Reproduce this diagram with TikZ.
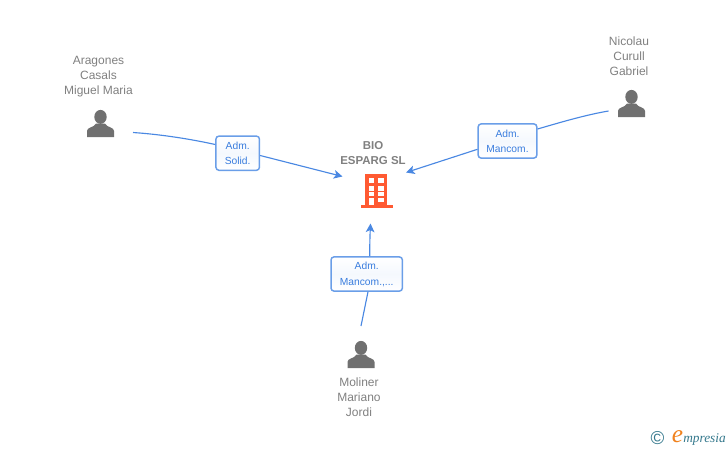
\documentclass[tikz,border=0pt]{standalone}
\usepackage{fontspec}
\setmainfont{Liberation Sans}
\newfontfamily\logofont{Liberation Serif}
\usetikzlibrary{shapes,arrows.meta}
\definecolor{linkblue}{RGB}{74,136,226}
\definecolor{boxblue}{RGB}{106,158,232}
\definecolor{textblue}{RGB}{58,125,222}
\definecolor{namegray}{RGB}{128,128,128}
\definecolor{icongray}{RGB}{112,112,112}
\definecolor{buildorange}{RGB}{255,90,50}
\definecolor{logoteal}{RGB}{52,120,140}
\definecolor{logoorange}{RGB}{240,130,30}
\tikzset{
  link/.style={draw=linkblue,line width=0.85pt},
  tipped/.style={-{Stealth[length=6.5pt,width=6.5pt,inset=1.6pt]}},
  rolebox/.style={draw=boxblue,line width=1.1pt,rounded corners=2.2pt,top color=white,bottom color=white,middle color=white!93!boxblue,text=textblue,font=\fontsize{7.7}{11.6}\selectfont,align=center,inner sep=0pt,minimum height=25.6pt},
  personname/.style={text=namegray,font=\fontsize{9}{11.25}\selectfont,align=center,inner sep=0pt},
  personicon/.pic={
    \fill[icongray] (0,6.6) ellipse (6.2 and 7);
    \fill[icongray] (-13.5,-13.5) -- (-13.5,-7.5) .. controls (-13.5,-3.5) and (-7,-4.5) .. (-4.5,0) -- (4.5,0) .. controls (7,-4.5) and (13.5,-3.5) .. (13.5,-7.5) -- (13.5,-13.5) -- cycle;
  }
}
\begin{document}
\begin{tikzpicture}[x=0.75pt,y=0.75pt,yscale=-1,xscale=1]
    \useasboundingbox (0,0) rectangle (728,450);

    % Company
    \node [text=namegray,font=\bfseries\fontsize{8.6}{11.25}\selectfont,align=center,inner sep=0pt] (company) at (373,153.2) {BIO\\ESPARG SL};
    %Building
    \fill [buildorange] (365,174) rectangle (387,205) ;
    \fill [buildorange] (360.5,205) rectangle (392.5,208) ;
    \foreach \rowy/\rowh in {178/5,186/4.5,192/3.5,198/4}{
      \fill [white] (368.5,\rowy) rectangle ++(5.2,\rowh) ;
      \fill [white] (378.3,\rowy) rectangle ++(5.2,\rowh) ;
    }
    \fill [white] (368.5,198) rectangle (373.7,205) ;

    % People
    \path (100.5,123.5) pic {personicon} ;
    \path (631.5,103.5) pic {personicon} ;
    \path (361,354.5) pic {personicon} ;
    \node [personname] (aragones) at (98.5,76.7) {Aragones\\Casals\\Miguel Maria};
    \node [personname] (nicolau) at (629,56.7) {Nicolau\\Curull\\Gabriel};
    \node [personname] (moliner) at (359,397) {Moliner\\Mariano\\Jordi};

    % Role boxes
    \node [rolebox,minimum width=32.6pt] (solid) at (237.7,153.2) {\rule{0pt}{6pt}Adm.\\Solid.};
    \node [rolebox,minimum width=44pt] (mancom) at (507.5,141) {\rule{0pt}{6pt}Adm.\\Mancom.};
    \node [rolebox,minimum width=53.5pt] (mancomb) at (366.7,274) {\rule{0pt}{6pt}Adm.\\Mancom.,...};

    % Link ends
    \coordinate (aragonesend) at (133,132.5);
    \coordinate (nicolauend) at (608.5,111);
    \coordinate (molinerend) at (361,326);
    \coordinate (arrowleft) at (342.5,176.5);
    \coordinate (arrowright) at (406,172.5);
    \coordinate (arrowbottom) at (370.5,223.5);

    %Curve Lines
    \draw [link] (aragonesend) .. controls (162,134.5) and (190,139) .. (solid.west |- 0,144.5) ;
    \draw [link,tipped] (solid.east |- 0,155.5) -- (arrowleft) ;
    \draw [link] (nicolauend) .. controls (585,115) and (560,122.5) .. (mancom.east |- 0,129) ;
    \draw [link,tipped] (mancom.west |- 0,149.3) -- (arrowright) ;
    \draw [link] (molinerend) -- (mancomb.south -| 368,0) ;
    \draw [link,tipped] (mancomb.north -| 369.7,0) .. controls (369.7,245) and (370,235) .. (arrowbottom) ;

    % Logo
    \node [text=logoteal,font=\fontsize{14}{16}\selectfont,inner sep=0pt] (copyright) at (657.5,438.5) {©};
    \node [text=logoorange,font=\logofont\itshape\fontsize{19}{20}\selectfont,inner sep=0pt] (logoe) at (677.5,436.5) {e};
    \node [text=logoteal,font=\logofont\itshape\fontsize{10}{11}\selectfont,inner sep=0pt,anchor=west] (logotext) at (683,439.5) {mpresia};
\end{tikzpicture}
\end{document}
